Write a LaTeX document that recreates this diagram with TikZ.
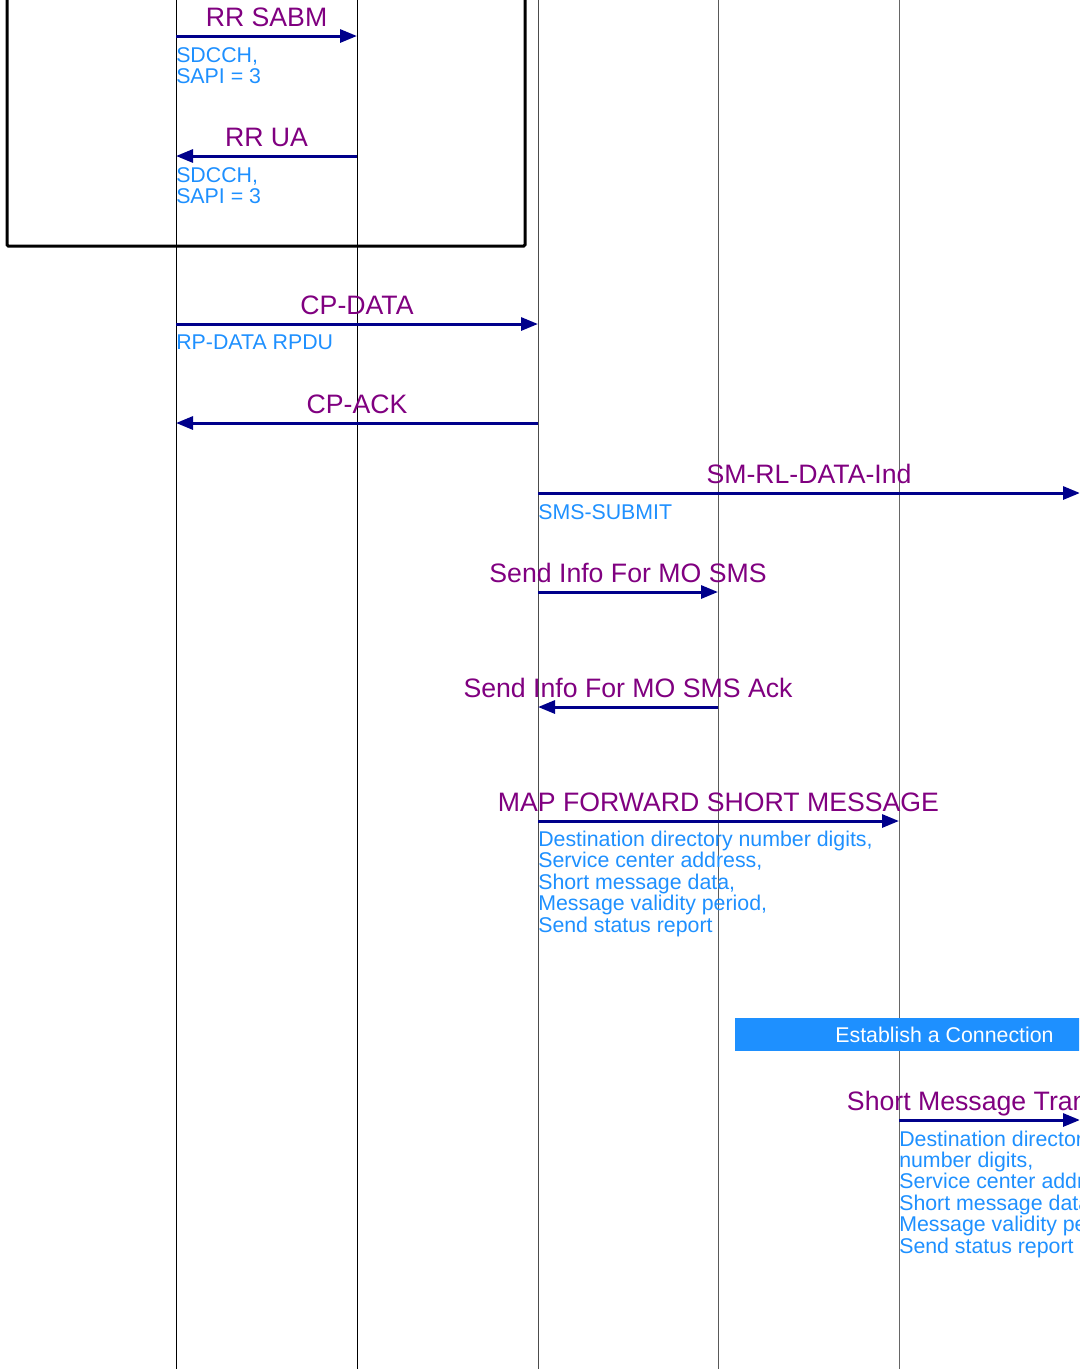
\documentclass[tikz,border=0pt]{standalone}
\usepackage{fontspec}
\setmainfont{Liberation Sans}
\usetikzlibrary{arrows.meta}
\definecolor{navyarrow}{HTML}{00008B}
\definecolor{lblpurple}{HTML}{800080}
\definecolor{notblue}{HTML}{1E90FF}
\begin{document}
\begin{tikzpicture}[x=0.75pt,y=-0.75pt,
  lifeline/.style={line width=0.6pt},
  msg/.style={draw=navyarrow, line width=2.25pt, -{Triangle[length=12.75pt,width=9.75pt]}},
  lbl/.style={text=lblpurple, font=\fontsize{20}{22}\selectfont, anchor=base, inner sep=0, yshift=7.5pt},
  note/.style={text=notblue, font=\fontsize{16}{16.1}\selectfont, anchor=north west, inner sep=0, align=left, yshift=-8.2pt},
  framebox/.style={draw=black, line width=2.25pt, rounded corners=1pt},
  estbox/.style={fill=notblue, text=white, font=\fontsize{16}{16}\selectfont, minimum width=314.25pt, minimum height=24.75pt, inner sep=0}]
\useasboundingbox (0,0) rectangle (1079,1371);
\clip (0,0) rectangle (1079,1371);
% lifeline heads and feet
\coordinate (L1) at (176,-10); \coordinate (F1) at (176,1369);
\coordinate (L2) at (357,-10); \coordinate (F2) at (357,1369);
\coordinate (L3) at (538,-10); \coordinate (F3) at (538,1369);
\coordinate (L4) at (718,-10); \coordinate (F4) at (718,1369);
\coordinate (L5) at (899,-10); \coordinate (F5) at (899,1369);
\coordinate (L6) at (1080,-10);
\draw[lifeline, black] (L1) -- (F1);
\draw[lifeline, black] (L2) -- (F2);
\draw[lifeline, black!70] (L3) -- (F3);
\draw[lifeline, black!65] (L4) -- (F4);
\draw[lifeline, black!60] (L5) -- (F5);
% message levels
\coordinate (y1) at (0,36);
\coordinate (y2) at (0,156);
\coordinate (y3) at (0,324);
\coordinate (y4) at (0,423);
\coordinate (y5) at (0,493);
\coordinate (y6) at (0,592);
\coordinate (y7) at (0,707);
\coordinate (y8) at (0,821);
\coordinate (y9) at (0,1120);
% frame
\draw[framebox] (7,-20) -- (7,246) -- (525,246) -- (525,-20);
% messages
\draw[msg] (L1 |- y1) -- node[lbl] (t1) {RR SABM} (L2 |- y1);
\node[note] (n1) at (L1 |- y1) {SDCCH,\\SAPI = 3};
\draw[msg] (L2 |- y2) -- node[lbl] (t2) {RR UA} (L1 |- y2);
\node[note] (n2) at (L1 |- y2) {SDCCH,\\SAPI = 3};
\draw[msg] (L1 |- y3) -- node[lbl] (t3) {CP-DATA} (L3 |- y3);
\node[note] (n3) at (L1 |- y3) {RP-DATA RPDU};
\draw[msg] (L3 |- y4) -- node[lbl] (t4) {CP-ACK} (L1 |- y4);
\draw[msg] (L3 |- y5) -- node[lbl] (t5) {SM-RL-DATA-Ind} (L6 |- y5);
\node[note] (n5) at (L3 |- y5) {SMS-SUBMIT};
\draw[msg] (L3 |- y6) -- node[lbl] (t6) {Send Info For MO SMS} (L4 |- y6);
\draw[msg] (L4 |- y7) -- node[lbl] (t7) {Send Info For MO SMS Ack} (L3 |- y7);
\draw[msg] (L3 |- y8) -- node[lbl] (t8) {MAP FORWARD SHORT MESSAGE} (L5 |- y8);
\node[note, yshift=1pt] (n8) at (L3 |- y8) {Destination directory number digits,\\Service center address,\\Short message data,\\Message validity period,\\Send status report};
\node[estbox] (est) at (944.5,1034.5) {Establish a Connection};
\draw[msg] (L5 |- y9) -- node[lbl] (t9) {Short Message Transfer} (L6 |- y9);
\node[note, yshift=0.5pt] (n9) at (L5 |- y9) {Destination directory\\number digits,\\Service center address,\\Short message data,\\Message validity period,\\Send status report};
\end{tikzpicture}
\end{document}
